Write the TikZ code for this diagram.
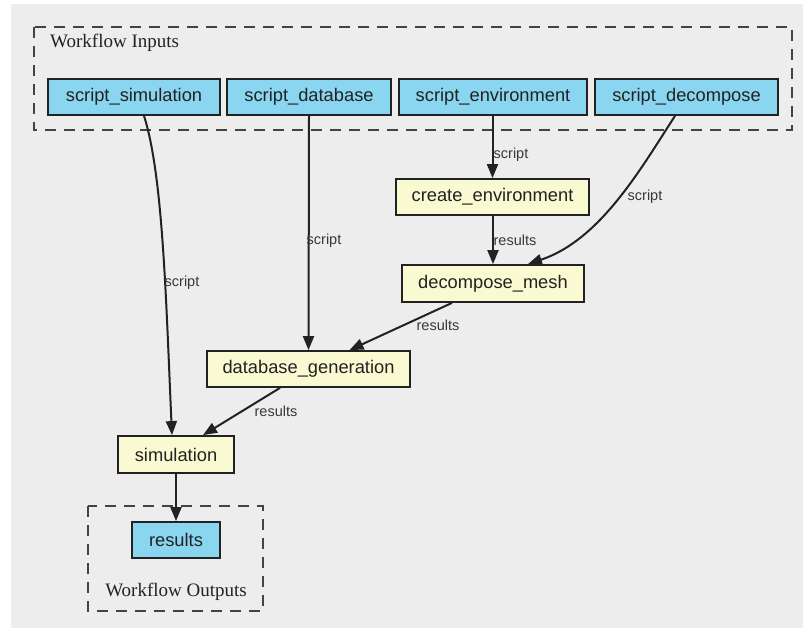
\documentclass[tikz,border=0pt]{standalone}
\usepackage{fontspec}
\setmainfont{Liberation Serif}
\newfontfamily\boxfont{Liberation Sans}
\usetikzlibrary{arrows.meta}
\definecolor{bg}{HTML}{EDEDED}
\definecolor{infill}{HTML}{8AD5F0}
\definecolor{taskfill}{HTML}{FAFAD2}
\definecolor{ink}{HTML}{222222}

\begin{document}
\begin{tikzpicture}[x=1pt,y=-1pt,
  every node/.style={inner sep=0pt},
  basebox/.style={draw=ink, line width=1.8pt, minimum height=36pt,
    font=\boxfont\fontsize{18.3}{20}\selectfont, text=ink},
  iobox/.style={basebox, fill=infill},
  taskbox/.style={basebox, fill=taskfill},
  cluster/.style={draw=ink!85, line width=2pt, dash pattern=on 11pt off 8pt},
  clabel/.style={font=\fontsize{19}{21}\selectfont, text=ink},
  flow/.style={draw=ink, line width=2pt, -{Triangle[length=14pt,width=11pt]}},
  elabel/.style={font=\boxfont\fontsize{14.5}{16}\selectfont, text=ink!90},
]
\useasboundingbox (0,0) rectangle (803,628);
\fill[white] (0,0) rectangle (803,628);
\fill[bg] (11,4) rectangle (803,628);

% clusters
\draw[cluster] (34,27) rectangle (792,130);
\node[clabel, anchor=west] (inlabel) at (50,43) {Workflow Inputs};
\draw[cluster] (88,506) rectangle (263,611);
\node[clabel] (outlabel) at (176,592) {Workflow Outputs};

% inputs
\node[iobox, minimum width=172pt] (ssim) at (134,97) {script\_simulation};
\node[iobox, minimum width=164pt] (sdb) at (309,97) {script\_database};
\node[iobox, minimum width=188pt] (senv) at (493,97) {script\_environment};
\node[iobox, minimum width=183pt] (sdec) at (686.5,97) {script\_decompose};

% tasks
\node[taskbox, minimum width=193pt] (cenv) at (492.5,197) {create\_environment};
\node[taskbox, minimum width=182pt, minimum height=37pt] (dmesh) at (493,283.5) {decompose\_mesh};
\node[taskbox, minimum width=203pt] (dbgen) at (308.5,369) {database\_generation};
\node[taskbox, minimum width=116pt, minimum height=37pt] (sim) at (176,454.5) {simulation};

% output
\node[iobox, minimum width=88pt] (res) at (176,540) {results};

% connectors
\draw[flow] ([xshift=10pt]ssim.south) .. controls (163,175) and (166,300) .. ([xshift=-4pt]sim.north);
\draw[flow] (sdb.south) -- (dbgen.north);
\draw[flow] (senv.south -| cenv.north) -- (cenv.north);
\draw[flow] ([xshift=-11.5pt]sdec.south) .. controls (640,170) and (600,240) .. ([xshift=35pt]dmesh.north);
\draw[flow] (cenv.south -| dmesh.north) -- (dmesh.north);
\draw[flow] ([xshift=-41pt]dmesh.south) -- ([xshift=41pt]dbgen.north);
\draw[flow] ([xshift=-28.5pt]dbgen.south) -- ([xshift=27pt]sim.north);
\draw[flow] (sim.south) -- (res.north);

% connector labels
\node[elabel] (l1) at (182,283) {script};
\node[elabel] (l2) at (324,241) {script};
\node[elabel] (l3) at (511,155) {script};
\node[elabel] (l4) at (645,197) {script};
\node[elabel] (l5) at (515,240) {results};
\node[elabel] (l6) at (438,325) {results};
\node[elabel] (l7) at (276,411) {results};
\end{tikzpicture}
\end{document}
